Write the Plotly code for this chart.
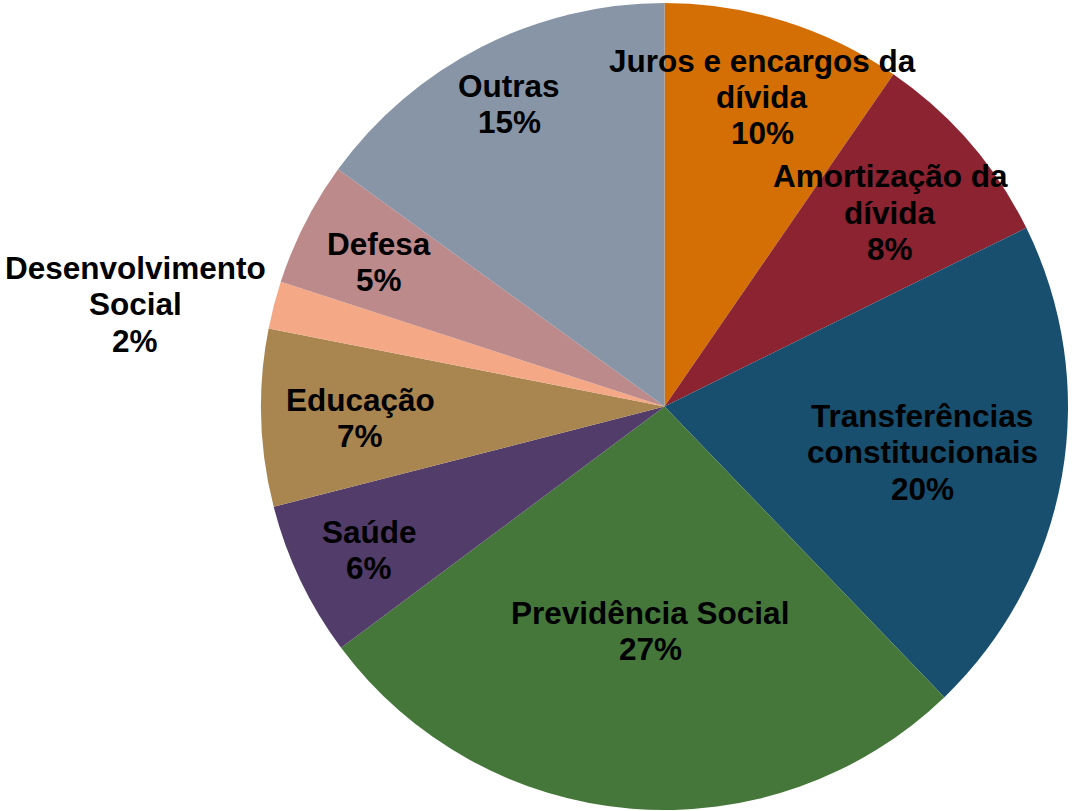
import plotly.graph_objects as go

# Data
categories = ["Juros e encargos da<br>dívida", "Amortização da<br>dívida",
              "Transferências<br>constitucionais", "Previdência Social",
              "Saúde", "Educação", "Desenvolvimento<br>Social", "Defesa", "Outras"]
values = [9.6, 8.1, 20.1, 27.0, 6.2, 7.1, 1.9, 5.0, 15.0]
colors = ["#D46F05", "#8B2331", "#184E6E", "#45773A", "#523C69",
          "#A9854F", "#F4A886", "#BC8A8B", "#8795A7"]

# Label block centres in pixels (x, y from top) on the 1073x811 canvas
W, H = 1073, 811
label_px = [(762, 97), (890, 213), (922, 452), (650, 631), (369, 550),
            (360, 418), (135, 304), (379, 262), (509, 104)]
LINE_GAP = 36.5
FONT_SIZE = 31.5

fig = go.Figure(go.Pie(
    labels=[c.replace("<br>", " ") for c in categories],
    values=values,
    sort=False,
    direction="clockwise",
    rotation=0,
    marker=dict(colors=colors, line=dict(width=0)),
    textinfo="none",
    hoverinfo="label+percent",
    showlegend=False,
    domain=dict(x=[(664.5 - 403.5) / W, (664.5 + 403.5) / W],
                y=[(H - 810) / H, (H - 3) / H]),
))

total = sum(values)
for cat, v, (px, py) in zip(categories, values, label_px):
    lines = cat.split("<br>") + [f"{round(100 * v / total)}%"]
    n = len(lines)
    for i, line in enumerate(lines):
        ly = py + (i - (n - 1) / 2) * LINE_GAP
        fig.add_annotation(
            x=px / W, y=1 - ly / H, xref="paper", yref="paper",
            xanchor="center", yanchor="middle",
            text=f"<b>{line}</b>",
            showarrow=False,
            font=dict(family="Liberation Sans, Arial, sans-serif",
                      size=FONT_SIZE, color="#000000"),
            align="center",
        )

fig.update_layout(
    width=W, height=H,
    margin=dict(l=0, r=0, t=0, b=0),
    paper_bgcolor="white",
    plot_bgcolor="white",
)

fig.write_html("out.html", config={"displayModeBar": False},
               post_script="document.body.style.margin='0';")
